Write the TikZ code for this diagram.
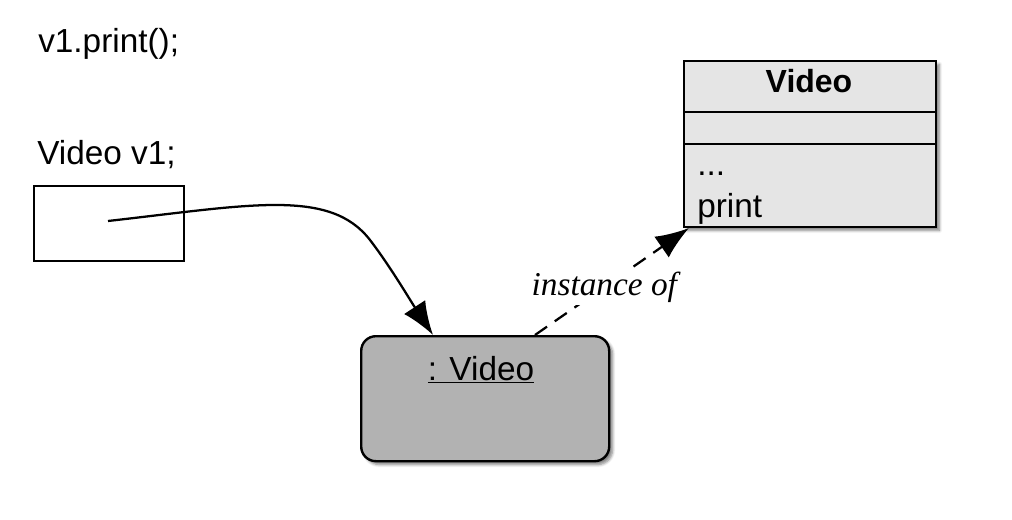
\documentclass[tikz,border=0pt]{standalone}
\usepackage{fontspec}
\setmainfont{Liberation Sans}
\newfontfamily\serifit{Liberation Serif}
\usetikzlibrary{arrows.meta,shadows.blur,calc}
\begin{document}
\begin{tikzpicture}[x=0.75pt,y=-0.75pt,
  fs/.style={font=\fontsize{25}{30}\selectfont},
  lbl/.style={inner sep=0pt,anchor=base west,fs},
  shad/.style={blur shadow={shadow xshift=2.5pt,shadow yshift=-2.5pt,shadow blur steps=6,shadow opacity=50}},
  conn/.style={line width=1.7pt,-{Latex[length=25pt,width=19pt]}},
]
\useasboundingbox (0,0) rectangle (1012,520);
% texts
\node[lbl] (call) at (38,53) {v1.print();};
\node[lbl] (decl) at (37,165) {Video v1;};
% reference variable box
\node[draw,line width=1.5pt,minimum width=112.5pt,minimum height=56.25pt,anchor=north west,inner sep=0pt] (var) at (33,185) {};
\coordinate (s) at (108,221);
% object
\node[draw,line width=1.8pt,rounded corners=11pt,fill=black!30,shad,minimum width=186pt,minimum height=93.75pt,anchor=north west,inner sep=0pt] (obj) at (360,335) {};
\node[inner sep=0pt,anchor=base,fs] (objname) at (481,380) {\underline{: Video}};
% class
\node[draw,line width=1.6pt,fill=black!10,shad,minimum width=189pt,minimum height=124.5pt,anchor=north west,inner sep=0pt] (cls) at (683,60) {};
\draw[line width=1.6pt] (683,112) -- (935,112);
\draw[line width=1.6pt] (683,144) -- (935,144);
\node[inner sep=0pt,anchor=base,font=\fontsize{24}{29}\selectfont\bfseries] (clsname) at (809,93) {Video};
\node[lbl] (dots) at (697,176) {...};
\node[lbl] (pr) at (697,218) {print};
% connectors
\coordinate (tipA) at (433,335);
\draw[conn] (s) .. controls (250,205) and (330,188) .. (370,240) .. controls (390,266) and (410,300) .. (tipA);
\coordinate (fromB) at (535,335);
\coordinate (tipB) at (689,228);
\draw[conn,dash pattern=on 11pt off 7pt] (fromB) -- (tipB)
  node[pos=0.45,fill=white,inner sep=2pt,font=\serifit\itshape\fontsize{25}{30}\selectfont] (inst) {instance of};
\end{tikzpicture}
\end{document}
